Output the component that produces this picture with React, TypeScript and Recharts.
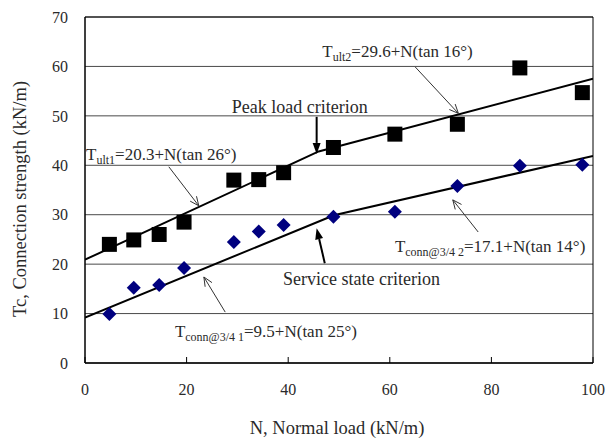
import React from 'react';
import {
  ComposedChart,
  XAxis,
  YAxis,
  CartesianGrid,
  Line,
  Scatter,
  ReferenceLine,
  ReferenceDot,
  ReferenceArea,
} from 'recharts';

// ---- data ----
const normalLoad = [4.8, 9.6, 14.6, 19.5, 29.3, 34.2, 39.1, 48.9, 61.0, 73.3, 85.6, 97.9];
const peakStrength = [24.0, 24.9, 26.0, 28.5, 37.0, 37.1, 38.5, 43.6, 46.3, 48.3, 59.7, 54.7];
const serviceStrength = [9.9, 15.2, 15.8, 19.2, 24.5, 26.6, 27.9, 29.6, 30.6, 35.8, 39.9, 40.1];

const peakFitX = [0, 46, 100];
const peakFitY = [20.9, 42.8, 57.5];
const serviceFitX = [0, 49, 100];
const serviceFitY = [9.2, 29.9, 41.9];

const xTicks = [0, 20, 40, 60, 80, 100];
const yTicks = [0, 10, 20, 30, 40, 50, 60, 70];

const xTitle = 'N, Normal load (kN/m)';
const yTitle = 'Tc, Connection strength (kN/m)';

type Note = { x: number; y: number; main: string; sub?: string; rest?: string; size: number };
const notes: Note[] = [
  { x: 28.9, y: 50.6, main: 'Peak load criterion', size: 18 },
  { x: 39.0, y: 15.8, main: 'Service state criterion', size: 18 },
  { x: 0.2, y: 41.0, main: 'T', sub: 'ult1', rest: '=20.3+N(tan 26°)', size: 17 },
  { x: 46.7, y: 62.0, main: 'T', sub: 'ult2', rest: '=29.6+N(tan 16°)', size: 17 },
  { x: 61.0, y: 22.45, main: 'T', sub: 'conn@3/4 2', rest: '=17.1+N(tan 14°)', size: 17 },
  { x: 17.7, y: 5.26, main: 'T', sub: 'conn@3/4 1', rest: '=9.5+N(tan 25°)', size: 17 },
];

type Arrow = { x1: number; y1: number; x2: number; y2: number; bold: boolean };
const arrows: Arrow[] = [
  { x1: 45.6, y1: 49.8, x2: 45.6, y2: 42.3, bold: true },
  { x1: 47.2, y1: 20.2, x2: 45.6, y2: 27.25, bold: true },
  { x1: 16.5, y1: 39.7, x2: 22.4, y2: 31.8, bold: false },
  { x1: 65.0, y1: 59.9, x2: 73.5, y2: 50.5, bold: false },
  { x1: 77.4, y1: 26.5, x2: 72.4, y2: 33.0, bold: false },
  { x1: 27.6, y1: 10.3, x2: 23.4, y2: 17.4, bold: false },
];

const peakPoints = normalLoad.map((x, i) => ({ x, y: peakStrength[i] }));
const servicePoints = normalLoad.map((x, i) => ({ x, y: serviceStrength[i] }));
const peakFit = peakFitX.map((x, i) => ({ x, y: peakFitY[i] }));
const serviceFit = serviceFitX.map((x, i) => ({ x, y: serviceFitY[i] }));

const FONT = '"Liberation Serif", "Times New Roman", serif';
const TEXT_COLOR = '#2a2a2a';

const SquareShape = (props: any) => {
  const { cx, cy } = props;
  const s = 15;
  return <rect x={cx - s / 2} y={cy - s / 2} width={s} height={s} fill="#000" />;
};

const DiamondShape = (props: any) => {
  const { cx, cy } = props;
  const r = 7;
  return (
    <polygon
      points={`${cx},${cy - r} ${cx + r},${cy} ${cx},${cy + r} ${cx - r},${cy}`}
      fill="#00007f"
    />
  );
};

const makeArrowShape = (bold: boolean) => (props: any) => {
  const { x1, y1, x2, y2 } = props;
  const dx = x2 - x1;
  const dy = y2 - y1;
  const len = Math.hypot(dx, dy) || 1;
  const ux = dx / len;
  const uy = dy / len;
  const px = -uy;
  const py = ux;
  const headLen = bold ? 11 : 9;
  const headW = bold ? 4 : 4;
  const bx = x2 - ux * headLen;
  const by = y2 - uy * headLen;
  if (bold) {
    return (
      <g>
        <line x1={x1} y1={y1} x2={bx} y2={by} stroke="#000" strokeWidth={2} />
        <polygon
          points={`${x2},${y2} ${bx + px * headW},${by + py * headW} ${bx - px * headW},${by - py * headW}`}
          fill="#000"
        />
      </g>
    );
  }
  return (
    <g>
      <line x1={x1} y1={y1} x2={x2} y2={y2} stroke="#333" strokeWidth={1} />
      <polyline
        points={`${bx + px * headW},${by + py * headW} ${x2},${y2} ${bx - px * headW},${by - py * headW}`}
        fill="none"
        stroke="#333"
        strokeWidth={1}
      />
    </g>
  );
};

const makeNoteShape = (n: Note) => (props: any) => {
  const { cx, cy } = props;
  const subSize = Math.round(n.size * 0.68);
  return (
    <text x={cx} y={cy} fontFamily={FONT} fontSize={n.size} fill={TEXT_COLOR}>
      {n.main}
      {n.sub ? (
        <tspan fontSize={subSize} dy={4}>
          {n.sub}
        </tspan>
      ) : null}
      {n.rest ? <tspan dy={n.sub ? -4 : 0}>{n.rest}</tspan> : null}
    </text>
  );
};

export default function App() {
  return (
    <div style={{ position: 'absolute', left: 0, top: 0 }}>
      <ComposedChart
        width={615}
        height={438}
        margin={{ top: 17, right: 22, left: 25, bottom: 45 }}
      >
        <CartesianGrid vertical={false} stroke="#4a4a4a" strokeWidth={1} />
        <XAxis
          type="number"
          dataKey="x"
          domain={[0, 100]}
          ticks={xTicks}
          height={30}
          tickSize={-6}
          tickMargin={27}
          axisLine={{ stroke: '#000' }}
          tickLine={{ stroke: '#000' }}
          tick={{ fontFamily: FONT, fontSize: 16, fill: TEXT_COLOR }}
          allowDataOverflow
          label={{
            content: () => (
              <text
                x={337}
                y={434}
                textAnchor="middle"
                fontFamily={FONT}
                fontSize={18.5}
                fill={TEXT_COLOR}
              >
                {xTitle}
              </text>
            ),
          }}
        />
        <YAxis
          type="number"
          dataKey="y"
          domain={[0, 70]}
          ticks={yTicks}
          width={60}
          tickSize={0}
          tickMargin={17}
          axisLine={{ stroke: '#000' }}
          tickLine={false}
          tick={{ fontFamily: FONT, fontSize: 16, fill: TEXT_COLOR }}
          allowDataOverflow
          label={{
            content: () => (
              <text
                x={0}
                y={0}
                transform="translate(26,199) rotate(-90)"
                textAnchor="middle"
                fontFamily={FONT}
                fontSize={18.5}
                fill={TEXT_COLOR}
              >
                {yTitle}
              </text>
            ),
          }}
        />
        <ReferenceArea x1={0} x2={100} y1={0} y2={70} fill="none" fillOpacity={0} stroke="#000" strokeWidth={1} />
        <Line
          data={peakFit}
          dataKey="y"
          type="linear"
          stroke="#000"
          strokeWidth={2}
          dot={false}
          activeDot={false}
          isAnimationActive={false}
        />
        <Line
          data={serviceFit}
          dataKey="y"
          type="linear"
          stroke="#000"
          strokeWidth={2}
          dot={false}
          activeDot={false}
          isAnimationActive={false}
        />
        <Scatter data={peakPoints} dataKey="y" shape={SquareShape} isAnimationActive={false} />
        <Scatter data={servicePoints} dataKey="y" shape={DiamondShape} isAnimationActive={false} />
        {arrows.map((a, i) => (
          <ReferenceLine
            key={`arrow-${i}`}
            segment={[
              { x: a.x1, y: a.y1 },
              { x: a.x2, y: a.y2 },
            ]}
            shape={makeArrowShape(a.bold)}
          />
        ))}
        {notes.map((n, i) => (
          <ReferenceDot key={`note-${i}`} x={n.x} y={n.y} r={1} shape={makeNoteShape(n)} />
        ))}
      </ComposedChart>
    </div>
  );
}
